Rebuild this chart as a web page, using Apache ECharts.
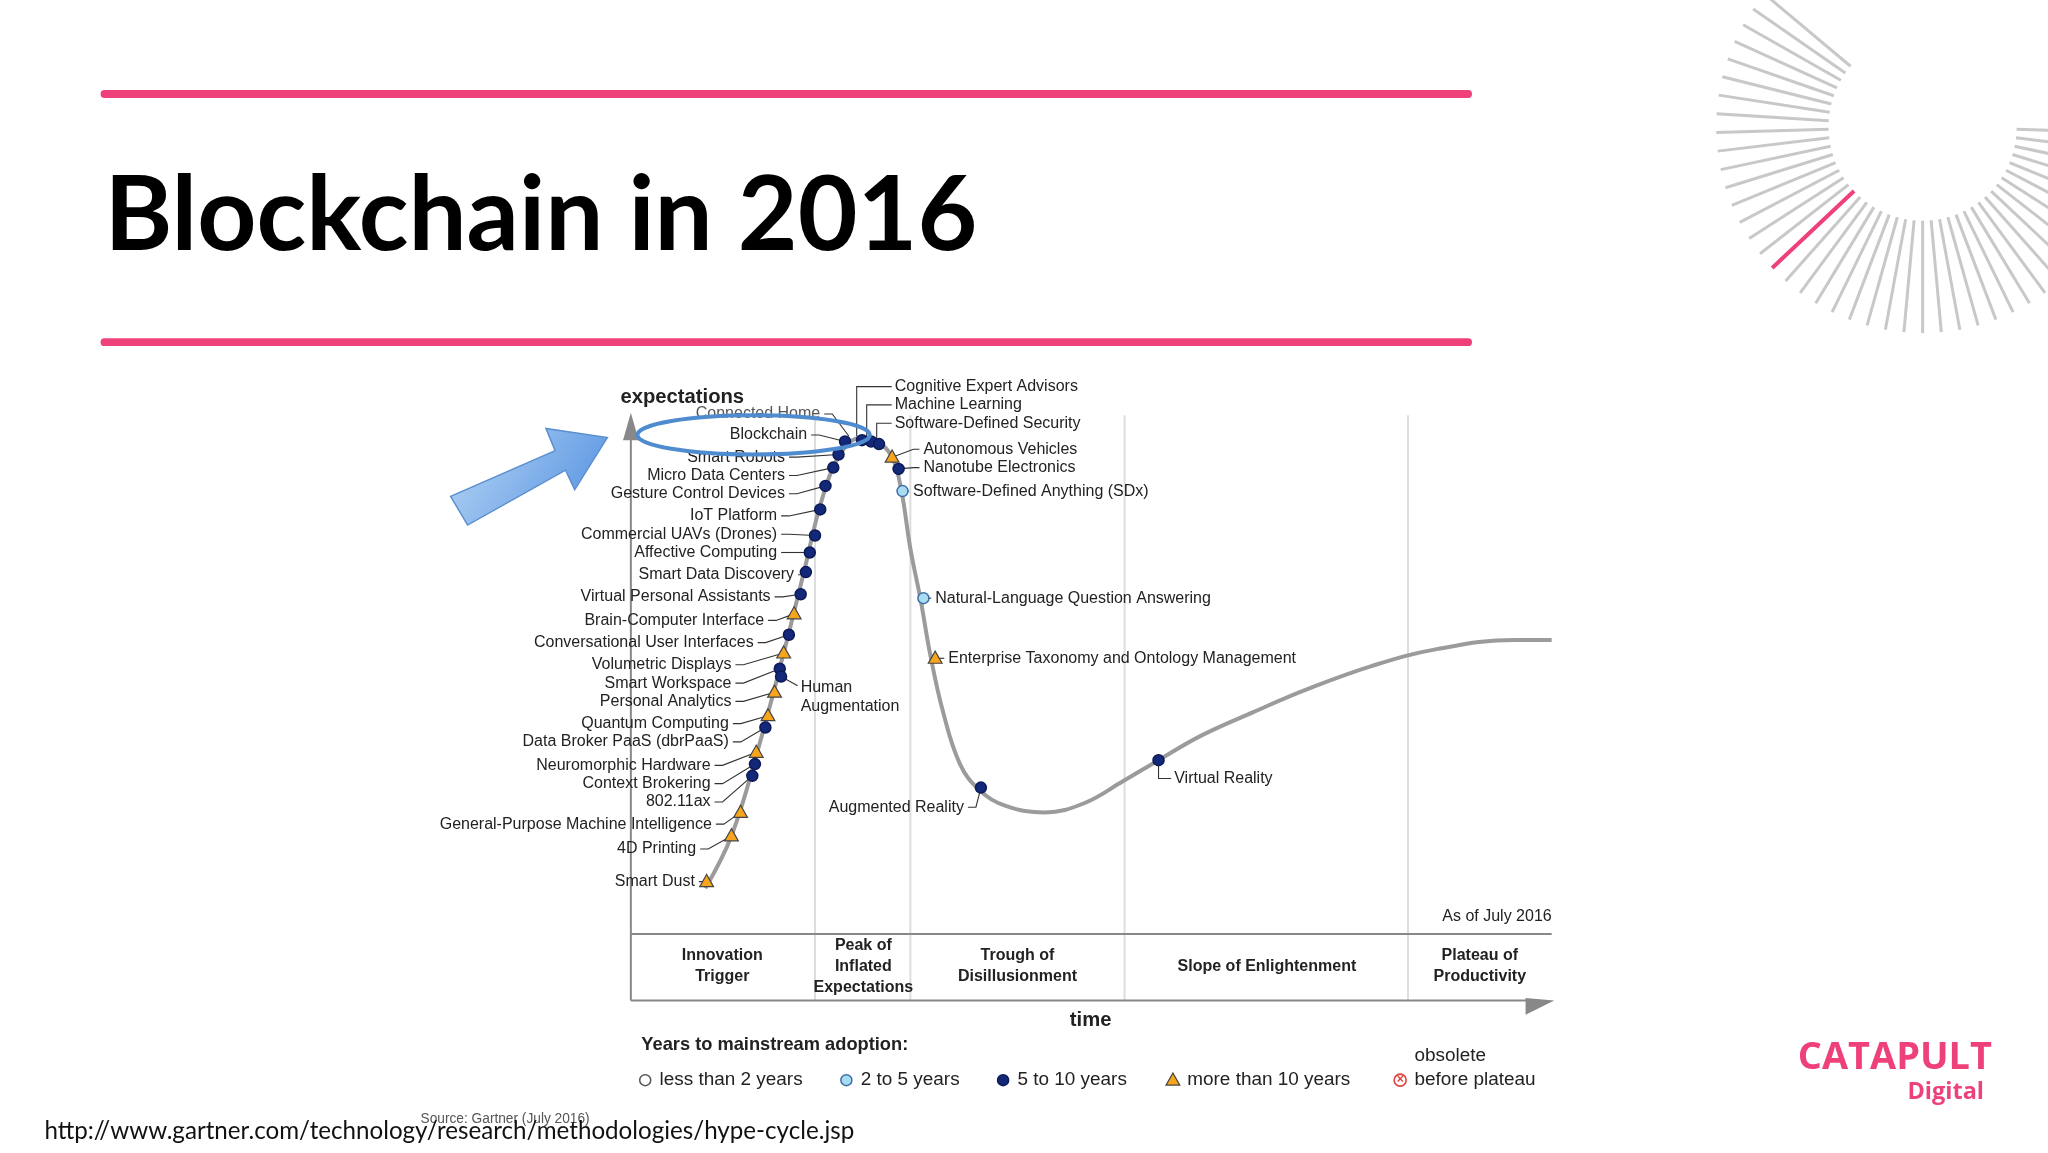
<!DOCTYPE html>
<html><head><meta charset="utf-8">
<script src="https://cdn.jsdelivr.net/npm/echarts@6/dist/echarts.min.js"></script>
<style>html,body{margin:0;padding:0;background:#fff}#c{width:2048px;height:1153px}</style>
</head><body><div id="c"></div>
<script>
const S = 2048/1568;
// Hype curve (reference units: x in picture px 483..1188, y in picture px 318..715, downwards)
const curveX = [540,560,580,600,615,630,645,660,672,683,690,697,705,712,722,735,750,770,800,830,860,887,920,960,1000,1050,1100,1160,1188];
const curveY = [680,640,575,500,440,380,345,335,338,350,375,420,460,500,545,585,605,617,622,615,598,582,563,545,528,510,497,490,490];
// Technologies: name, point x/y, type (0 light<2, 1 light blue 2-5, 2 dark 5-10, 3 triangle >10), label x/y, side
const techNames = ["Connected Home","Blockchain","Smart Robots","Micro Data Centers","Gesture Control Devices","IoT Platform","Commercial UAVs (Drones)","Affective Computing","Smart Data Discovery","Virtual Personal Assistants","Brain-Computer Interface","Conversational User Interfaces","Volumetric Displays","Smart Workspace","Personal Analytics","Quantum Computing","Data Broker PaaS (dbrPaaS)","Neuromorphic Hardware","Context Brokering","802.11ax","General-Purpose Machine Intelligence","4D Printing","Smart Dust","Cognitive Expert Advisors","Machine Learning","Software-Defined Security","Autonomous Vehicles","Nanotube Electronics","Software-Defined Anything (SDx)","Natural-Language Question Answering","Enterprise Taxonomy and Ontology Management","Augmented Reality","Virtual Reality","Human"];
const techX = [650,647,642,638,632,628,624,620,617,613,608,604,600,597,593,588,586,579,578,576,567,560,541,660,667,673,683,688,691,707,716,751,887,598];
const techY = [334,338,348,358,372,390,410,423,438,455,470,486,500,512,530,548,557,576,585,594,622,640,675,337,338,340,350,359,376,458,504,603,582,518];
const techType = [2,2,2,2,2,2,2,2,2,2,3,2,3,2,3,3,2,3,2,2,3,3,3,2,2,2,3,2,1,1,3,2,2,2];
const labelX = [628,618,601,601,601,595,595,595,608,590,585,577,560,560,560,558,558,544,544,544,545,533,532,685,685,685,707,707,699,716,726,738,899,613];
const labelY = [317,333,350,364,378,395,409,423,440,457,475,492,509,523,537,554,568,586,600,614,631,650,675,296,310,324,344,358,376,458,504,618,596,525];
const labelSide = ["r","r","r","r","r","r","r","r","r","r","r","r","r","r","r","r","r","r","r","r","r","r","r","b","b","b","l","l","l","l","l","r","v","h"];
const phaseX = [624,697,861,1078];
const phaseLabels = [["Innovation","Trigger"],["Peak of","Inflated","Expectations"],["Trough of","Disillusionment"],["Slope of Enlightenment"],["Plateau of","Productivity"]];
const phaseLabelX = [553,661,779,970,1133];
const legendLabels = ["less than 2 years","2 to 5 years","5 to 10 years","more than 10 years","before plateau"];

const chart = echarts.init(document.getElementById('c'));
const FS = 16;
const FONT = '"Liberation Sans", Arial, sans-serif';
const PINK = '#ef4179';
const NAVY = '#14287a';

function symbolShape(t, x, y, r) {
  const fills = ['#ffffff','#a9dcf3',NAVY,'#f6a51c'];
  const strokes = ['#555','#3d6fa8','#0c1a55','#444'];
  if (t === 3) {
    return {type:'polygon', shape:{points:[[x,y-r*1.3],[x-r*1.25,y+r*0.9],[x+r*1.25,y+r*0.9]]}, style:{fill:fills[3],stroke:strokes[3],lineWidth:1.2}, z2:10};
  }
  return {type:'circle', shape:{cx:x,cy:y,r:r}, style:{fill:fills[t],stroke:strokes[t],lineWidth:1.5}, z2:10};
}

const techData = techNames.map((n,i)=>[techX[i],techY[i],labelX[i],labelY[i]]);

function renderTech(params, api) {
  const i = params.dataIndex;
  const p = api.coord([api.value(0), api.value(1)]);
  const l = api.coord([api.value(2), api.value(3)]);
  const side = labelSide[i];
  const ch = [];
  const ls = {stroke:'#333', lineWidth:1.1, fill:null};
  let text = techNames[i];
  let tx = l[0], ty = l[1], align = 'left';
  if (side === 'r') {
    align = 'right';
    ch.push({type:'polyline', shape:{points:[[l[0]+4,l[1]],[l[0]+12,l[1]],p]}, style:ls});
  } else if (side === 'l') {
    ch.push({type:'polyline', shape:{points:[[l[0]-4,l[1]],[l[0]-10,l[1]],p]}, style:ls});
  } else if (side === 'b') {
    const bx = l[0] - (i===23?38:(i===24?28:18));
    ch.push({type:'polyline', shape:{points:[[l[0]-3,l[1]],[bx,l[1]],[bx,p[1]-4]]}, style:ls});
  } else if (side === 'v') {
    ch.push({type:'polyline', shape:{points:[p,[p[0],l[1]],[l[0]-3,l[1]]]}, style:ls});
  } else if (side === 'h') {
    text = 'Human\nAugmentation';
    ty = l[1] + 9*S;
    ch.push({type:'polyline', shape:{points:[[l[0]-3,l[1]],p]}, style:ls});
  }
  if (i === 0) {
    ch.push({type:'text', x:tx, y:ty, style:{text:text, fill:'#555', font:FS+'px '+FONT, align:'right', verticalAlign:'middle'}});
    return {type:'group', children:ch};
  }
  ch.push({type:'text', x:tx, y:ty, style:{text:text, fill:'#222', font:FS+'px '+FONT, align:align, verticalAlign:'middle', lineHeight:FS*1.2}});
  ch.push(symbolShape(techType[i], p[0], p[1], 5.5));
  return {type:'group', children:ch};
}

// graphics
const g = [];
const P = v => v*S;
g.push({type:'rect', shape:{x:P(77),y:P(69),width:P(1050),height:P(6),r:P(3)}, style:{fill:PINK}});
g.push({type:'rect', shape:{x:P(77),y:P(259),width:P(1050),height:P(6),r:P(3)}, style:{fill:PINK}});
g.push({type:'text', x:P(80), y:P(166), style:{text:'Blockchain in 2016', font:'bold '+P(79)+'px Lato, "Liberation Sans", sans-serif', fill:'#000', verticalAlign:'middle'}});
// radial decoration
const cx = P(1472), cy = P(97);
for (let a = 140; a <= 362; a += 5.2) {
  const rad = a * Math.PI/180;
  const r1 = P(72), r2 = P(158);
  const isPink = Math.abs(a - 224) < 2.6;
  g.push({type:'line', shape:{x1:cx+Math.cos(rad)*r1, y1:cy-Math.sin(rad)*r1, x2:cx+Math.cos(rad)*r2, y2:cy-Math.sin(rad)*r2}, style:{stroke:isPink?PINK:'#c8c8c8', lineWidth:isPink?4:3}});
}
// axes frame
const axisC = '#888';
g.push({type:'line', shape:{x1:P(483),y1:P(330),x2:P(483),y2:P(715)}, style:{stroke:axisC,lineWidth:2}});
g.push({type:'polygon', shape:{points:[[P(477),P(337)],[P(483),P(316)],[P(489),P(337)]]}, style:{fill:axisC}});
g.push({type:'line', shape:{x1:P(483),y1:P(715),x2:P(1188),y2:P(715)}, style:{stroke:axisC,lineWidth:2}});
g.push({type:'line', shape:{x1:P(483),y1:P(715),x2:P(483),y2:P(766)}, style:{stroke:axisC,lineWidth:2}});
g.push({type:'line', shape:{x1:P(483),y1:P(766),x2:P(1175),y2:P(766)}, style:{stroke:axisC,lineWidth:2}});
g.push({type:'polygon', shape:{points:[[P(1168),P(777)],[P(1190),P(766)],[P(1168),P(764)]]}, style:{fill:axisC}});
phaseX.forEach(x=>g.push({type:'line', shape:{x1:P(x),y1:P(318),x2:P(x),y2:P(766)}, style:{stroke:'#ddd',lineWidth:2}, z:-1}));
phaseLabels.forEach((lines,i)=>{
  g.push({type:'text', x:P(phaseLabelX[i]), y:P(740), style:{text:lines.join('\n'), font:'bold '+FS+'px '+FONT, fill:'#222', align:'center', verticalAlign:'middle', lineHeight:P(16)}});
});
g.push({type:'text', x:P(475), y:P(304), style:{text:'expectations', font:'bold '+P(15.5)+'px '+FONT, fill:'#222', verticalAlign:'middle'}});
g.push({type:'text', x:P(835), y:P(781), style:{text:'time', font:'bold '+P(15.5)+'px '+FONT, fill:'#222', align:'center', verticalAlign:'middle'}});
g.push({type:'text', x:P(1188), y:P(702), style:{text:'As of July 2016', font:FS+'px '+FONT, fill:'#222', align:'right', verticalAlign:'middle'}});
g.push({type:'text', x:P(491), y:P(800), style:{text:'Years to mainstream adoption:', font:'bold '+P(14)+'px '+FONT, fill:'#222', verticalAlign:'middle'}});
// legend
const legX = [494,648,768,898,1072];
legX.forEach((x,i)=>{
  if (i<4) g.push(symbolShape(i, P(x), P(827), 5.5));
  else {
    g.push({type:'circle', shape:{cx:P(x),cy:P(827),r:6}, style:{fill:'#fff',stroke:'#e0403a',lineWidth:1.6}});
    g.push({type:'text', x:P(x), y:P(827), style:{text:'×', font:'bold 12px '+FONT, fill:'#e0403a', align:'center', verticalAlign:'middle'}});
    g.push({type:'text', x:P(x+11), y:P(808), style:{text:'obsolete', font:P(14.5)+'px '+FONT, fill:'#222', verticalAlign:'middle'}});
  }
  g.push({type:'text', x:P(x+11), y:P(827), style:{text:legendLabels[i], font:P(14.5)+'px '+FONT, fill:'#222', verticalAlign:'middle'}});
});
g.push({type:'text', x:P(322), y:P(857), style:{text:'Source: Gartner (July 2016)', font:P(10.5)+'px '+FONT, fill:'#555', verticalAlign:'middle'}});
g.push({type:'text', x:P(34), y:P(866), style:{text:'http://www.gartner.com/technology/research/methodologies/hype-cycle.jsp', font:P(18.5)+'px Lato, "Liberation Sans", sans-serif', fill:'#111', verticalAlign:'middle'}});
// ellipse + arrow
g.push({type:'ellipse', shape:{cx:P(577),cy:P(333),rx:P(89),ry:P(15)}, style:{fill:null,stroke:'#4f8ccf',lineWidth:4}, z:20});
g.push({type:'polygon', shape:{points:[[P(345),P(380)],[P(425),P(345)],[P(418),P(328)],[P(465),P(335)],[P(440),P(375)],[P(433),P(360)],[P(358),P(402)]]},
  style:{fill:{type:'linear',x:0,y:0,x2:1,y2:1,colorStops:[{offset:0,color:'#b9d7f5'},{offset:1,color:'#4f8ee0'}]}, stroke:'#5b8fd0', lineWidth:1.5}, z:20});
// logo
g.push({type:'text', x:P(1525), y:P(810), style:{text:'CATAPULT', font:'bold '+P(29)+'px "Open Sans", sans-serif', fill:PINK, align:'right', verticalAlign:'middle'}});
g.push({type:'text', x:P(1519), y:P(836), style:{text:'Digital', font:'bold '+P(18)+'px "Open Sans", sans-serif', fill:PINK, align:'right', verticalAlign:'middle'}});

chart.setOption({
  animation:false,
  grid:{left:P(483), top:P(318), width:P(705), height:P(397)},
  xAxis:{type:'value', min:483, max:1188, show:false},
  yAxis:{type:'value', min:318, max:715, inverse:true, show:false},
  series:[
    {type:'line', smooth:0.4, symbol:'none', data:curveX.map((x,i)=>[x,curveY[i]]), lineStyle:{color:'#9b9b9b', width:4}, z:2},
    {type:'custom', renderItem:renderTech, data:techData, z:5}
  ],
  graphic:g
});
</script></body></html>
